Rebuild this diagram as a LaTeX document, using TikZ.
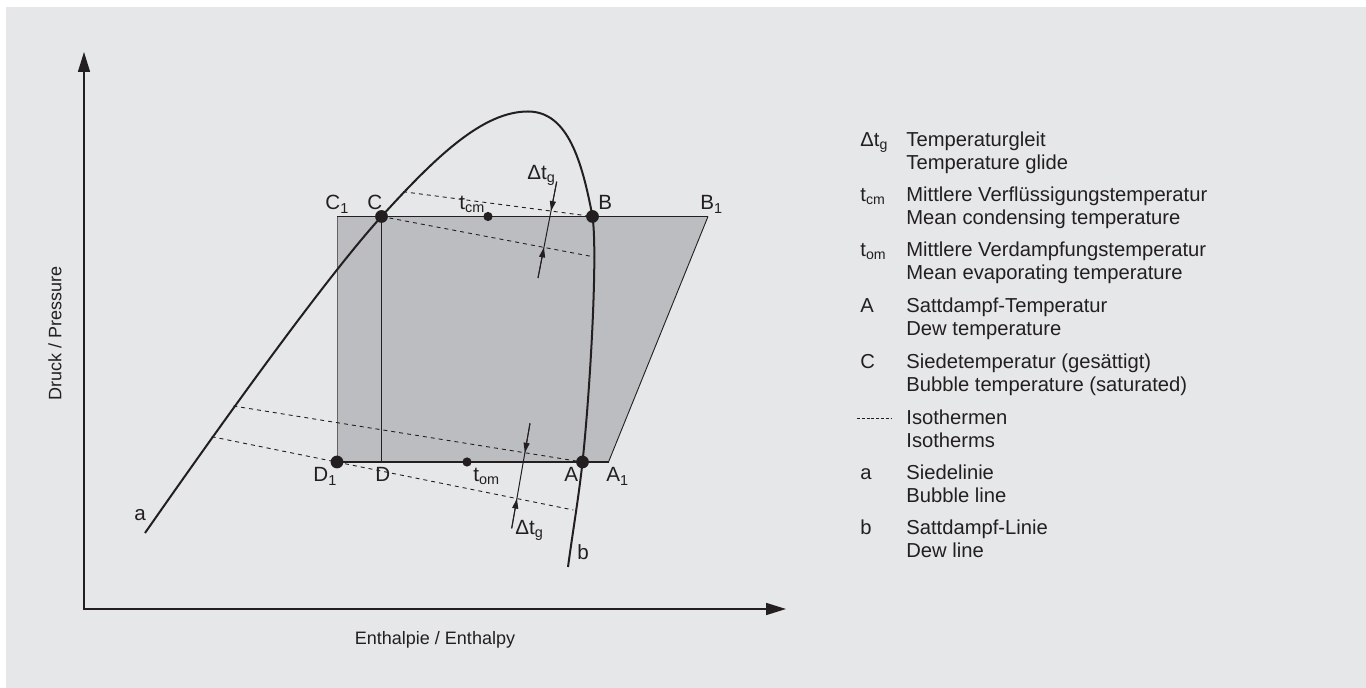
\documentclass[tikz,border=0pt]{standalone}
\usepackage{fontspec}
\setmainfont{Liberation Sans}
\usetikzlibrary{arrows.meta,calc}
\definecolor{bg}{HTML}{E6E7E8}
\definecolor{shadefill}{HTML}{BCBDC0}
\definecolor{ink}{HTML}{231F20}
\begin{document}
\begin{tikzpicture}[x=0.5pt,y=-0.5pt,
  curve/.style={draw=ink,line width=1pt},
  axisline/.style={draw=ink,line width=0.8pt,-{Triangle[length=10pt,width=6pt]}},
  iso/.style={draw=ink,line width=0.45pt,dash pattern=on 2pt off 2pt},
  glide/.style={draw=ink,line width=0.5pt},
  glidearrow/.style={draw=ink,line width=0.5pt,-{Triangle[length=5pt,width=3pt]}},
  bigdot/.style={fill=ink},
  lbl/.style={anchor=base west,inner sep=0pt,text=ink,font=\fontsize{10.3}{12}\selectfont},
  legtxt/.style={anchor=base west,inner sep=0pt,text=ink,font=\fontsize{10.1}{12}\selectfont},
  axlbl/.style={inner sep=0pt,text=ink,font=\fontsize{9}{11}\selectfont}]
\useasboundingbox (0,0) rectangle (1366,688);
\fill[white] (0,0) rectangle (1366,688);
\fill[bg] (6,7) rectangle (1366,688);

% key points
\coordinate (C1) at (337,216.5);
\coordinate (C) at (381.5,216.5);
\coordinate (tcm) at (488,216.5);
\coordinate (B) at (592.5,216.5);
\coordinate (B1) at (708,216.5);
\coordinate (D1) at (337,462);
\coordinate (D) at (381.5,462);
\coordinate (tom) at (467,462);
\coordinate (A) at (582.5,462);
\coordinate (A1) at (608.5,462);
\coordinate (abot) at (145,533);
\coordinate (top) at (528,111.5);
\coordinate (bbot) at (568,567);

% shaded cycle area
\fill[shadefill] (C1) -- (B1) -- (A1) -- (D1) -- cycle;
\draw[ink!70,line width=0.45pt] (C1) -- (D1);
\draw[ink,line width=0.45pt] (B1) -- (A1);
\draw[ink,line width=0.7pt] (C1) -- (B1);
\draw[ink,line width=0.7pt] (D1) -- (A1);
\draw[ink,line width=0.55pt] (C) -- (D);

% isotherms
\coordinate (ic1s) at (403,191.7);
\coordinate (ic2e) at (594.5,257);
\coordinate (ie1s) at (233.3,406);
\coordinate (ie2s) at (211.7,436.7);
\coordinate (ie2e) at (573.3,510);
\draw[iso] (ic1s) -- (B);
\draw[iso] (C) -- (ic2e);
\draw[iso] (ie1s) -- (A);
\draw[iso] (ie2s) -- (ie2e);

% saturation curve (bubble line a + dew line b)
\draw[curve] (abot) .. controls (205,447) and (321.5,282.5) .. (C)
  .. controls (436.5,156) and (483,111.5) .. (top)
  .. controls (568,111.5) and (582,161.5) .. (B)
  .. controls (598,255) and (590,392) .. (A)
  .. controls (579,495) and (573,530) .. (bbot);

% temperature glide arrows
\coordinate (gt1) at (556.7,181.7);
\coordinate (gt2) at (538,278);
\coordinate (gi1) at (intersection of gt1--gt2 and ic1s--B);
\coordinate (gi2) at (intersection of gt1--gt2 and C--ic2e);
\draw[glide] (gt1) -- (gt2);
\draw[glidearrow] (gt1) -- (gi1);
\draw[glidearrow] (gt2) -- (gi2);
\coordinate (gb1) at (530,423.3);
\coordinate (gb2) at (511.7,528.3);
\coordinate (gj1) at (intersection of gb1--gb2 and ie1s--A);
\coordinate (gj2) at (intersection of gb1--gb2 and ie2s--ie2e);
\draw[glide] (gb1) -- (gb2);
\draw[glidearrow] (gb1) -- (gj1);
\draw[glidearrow] (gb2) -- (gj2);

% dots
\foreach \p in {C,B,D1,A}{\fill[bigdot] (\p) circle[radius=3.2pt];}
\foreach \p in {tcm,tom}{\fill[bigdot] (\p) circle[radius=2.3pt];}

% labels
\node[lbl] (lC1) at (325,210) {C\textsubscript{1}};
\node[lbl] (lC) at (367,210) {C};
\node[lbl] (ltcm) at (459,210) {t\textsubscript{cm}};
\node[lbl] (lB) at (598,210) {B};
\node[lbl] (lB1) at (700,210) {B\textsubscript{1}};
\node[lbl] (lD1) at (313,482) {D\textsubscript{1}};
\node[lbl] (lD) at (375,482) {D};
\node[lbl] (ltom) at (473,482) {t\textsubscript{om}};
\node[lbl] (lA) at (564,482) {A};
\node[lbl] (lA1) at (606,482) {A\textsubscript{1}};
\node[lbl] (ldt1) at (527,180) {Δt\textsubscript{g}};
\node[lbl] (ldt2) at (515,535) {Δt\textsubscript{g}};
\node[lbl] (la) at (134,521) {a};
\node[lbl] (lb) at (577,560) {b};

% axes
\coordinate (O) at (84,609);
\coordinate (ytip) at (84,52);
\coordinate (xtip) at (786,609);
\draw[axisline] ($(O)+(0,1)$) -- (ytip);
\draw[axisline] ($(O)+(-0.8,0)$) -- (xtip);
\node[axlbl] (xlab) at (435,640) {Enthalpie / Enthalpy};
\node[axlbl,rotate=90] (ylab) at (55,333) {Druck / Pressure};

% legend
\foreach \yy/\sym/\la/\lb [count=\i] in {
147/{Δt\textsubscript{g}}/Temperaturgleit/Temperature glide,
201.5/{t\textsubscript{cm}}/Mittlere Verflüssigungstemperatur/Mean condensing temperature,
257/{t\textsubscript{om}}/Mittlere Verdampfungstemperatur/Mean evaporating temperature,
313/A/Sattdampf-Temperatur/Dew temperature,
369/C/Siedetemperatur (gesättigt)/Bubble temperature (saturated),
425/{}/Isothermen/Isotherms,
480/a/Siedelinie/Bubble line,
535/b/Sattdampf-Linie/Dew line}{
  \node[legtxt] (lsym\i) at (860,\yy) {\sym};
  \node[legtxt] (lone\i) at (906,\yy) {\la};
  \node[legtxt] (ltwo\i) at (906,\yy+23) {\lb};
}
\coordinate (iso1) at (857,418.5);
\coordinate (iso2) at (892,418.5);
\draw[draw=ink,line width=0.45pt,dash pattern=on 1.5pt off 0.9pt] (iso1) -- (iso2);
\end{tikzpicture}
\end{document}
